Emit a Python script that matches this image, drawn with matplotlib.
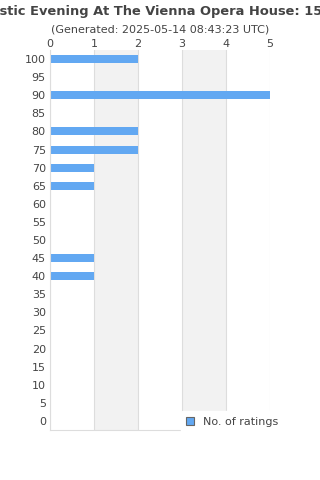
import matplotlib
matplotlib.use("Agg")
import matplotlib.pyplot as plt

categories = list(range(0, 101, 5))
ratings = {100: 2, 90: 5, 80: 2, 75: 2, 70: 1, 65: 1, 45: 1, 40: 1}
counts = [ratings.get(c, 0) for c in categories]
xticks = [0, 1, 2, 3, 4, 5]

title = "A Fantastic Evening At The Vienna Opera House: 150 Years"
subtitle = "(Generated: 2025-05-14 08:43:23 UTC)"

TEXT = "#444444"
BAR = "#62a8f2"

fig = plt.figure(figsize=(3.2, 4.8), dpi=100)
ax = fig.add_axes([50 / 320, 1 - 430 / 480, 220 / 320, 380 / 480])

for i in range(0, 5):
    if i % 2 == 1:
        ax.axvspan(i, i + 1, color="#f2f2f2", zorder=0, lw=0)
for x in xticks:
    ax.axvline(x, color="#dddddd", lw=0.8, zorder=1)

ax.barh(categories, counts, height=2.2, color=BAR, zorder=2, label="No. of ratings")

ax.set_xlim(0, 5)
ax.set_ylim(-2.5, 102.5)
ax.set_yticks(categories)
ax.set_yticklabels([str(c) for c in categories], fontsize=8, color=TEXT)
ax.set_xticks(xticks)
ax.set_xticklabels([str(x) for x in xticks], fontsize=8, color=TEXT)
ax.xaxis.tick_top()
ax.tick_params(axis="both", length=0, pad=3)
ax.tick_params(axis="x", pad=1)
for side in ["top", "right"]:
    ax.spines[side].set_visible(False)
for side in ["left", "bottom"]:
    ax.spines[side].set_color("#dddddd")

fig.text(0.5, 1 - 11 / 480, title, ha="center", va="center", fontsize=9.4,
         fontweight="bold", color=TEXT)
fig.text(0.5, 1 - 29 / 480, subtitle, ha="center", va="center", fontsize=8, color=TEXT)

leg = fig.legend(loc="center left", bbox_to_anchor=(175 / 320, 1 - 422 / 480),
                 fontsize=8, frameon=True, handlelength=0.7, handleheight=0.7,
                 borderpad=0.5, handletextpad=0.8)
leg.get_frame().set_facecolor("white")
leg.get_frame().set_edgecolor("white")
leg.get_frame().set_alpha(1)
for t in leg.get_texts():
    t.set_color(TEXT)
for h in leg.legend_handles:
    h.set_edgecolor("#666666")
    h.set_linewidth(0.8)

fig.savefig("out.png", dpi=100)
